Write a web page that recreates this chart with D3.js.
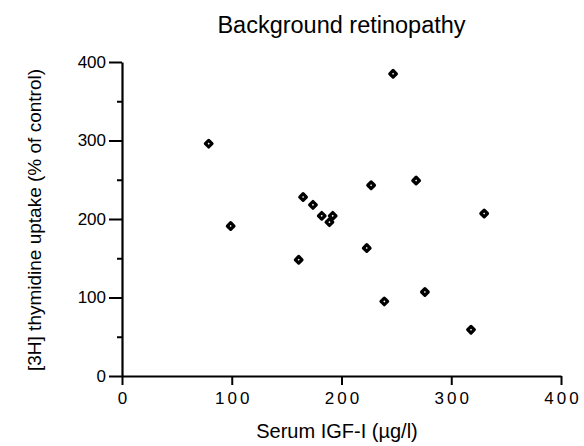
<!DOCTYPE html>
<html>
<head>
<meta charset="utf-8">
<script src="https://cdn.jsdelivr.net/npm/d3@7"></script>
<style>
  body { margin: 0; background: #fff; }
  text { font-family: "Liberation Sans", Arial, sans-serif; fill: #000; }
</style>
</head>
<body>
<div id="chart"></div>
<script>
// chart data
var igf = [79, 99, 161, 165, 174, 182, 189, 192, 223, 227, 239, 247, 268, 276, 318, 330];
var uptake = [296, 191, 148, 228, 218, 204, 196, 204, 163, 243, 95, 385, 249, 107, 59, 207];
var xTicks = [0, 100, 200, 300, 400];
var yTicks = [0, 100, 200, 300, 400];
var yMinorTicks = [50, 150, 250, 350];

var svgWidth = 584;
var svgHeight = 446;
var margin = { top: 62, right: 23, bottom: 70, left: 122 };
var width = svgWidth - margin.left - margin.right;
var height = svgHeight - margin.top - margin.bottom;

var svg = d3.select("#chart")
  .append("svg")
  .attr("width", svgWidth)
  .attr("height", svgHeight);

var g = svg.append("g")
  .attr("transform", `translate(${margin.left}, ${margin.top})`);

var x = d3.scaleLinear().domain([0, 400]).range([0, width]);
var y = d3.scaleLinear().domain([0, 400]).range([height, 0]);

// x axis
var xAxis = g.append("g")
  .attr("transform", `translate(0, ${height})`)
  .call(d3.axisBottom(x).tickValues(xTicks).tickSize(9).tickSizeOuter(0).tickPadding(7));
xAxis.selectAll("text")
  .attr("font-size", 17)
  .attr("dx", "1.5px")
  .style("letter-spacing", "3px");

// y axis, minor ticks first
g.append("g")
  .call(d3.axisLeft(y).tickValues(yMinorTicks).tickSize(5).tickSizeOuter(0).tickFormat(""))
  .select(".domain").remove();

var yAxis = g.append("g")
  .call(d3.axisLeft(y).tickValues(yTicks).tickSize(13).tickSizeOuter(0).tickPadding(3));
yAxis.selectAll("text").attr("font-size", 17);

g.selectAll(".domain, .tick line")
  .attr("stroke", "#000")
  .attr("stroke-width", 2);
g.selectAll(".domain").attr("stroke-width", 2.2);

// points
var pts = igf.map((v, i) => ({ x: v, y: uptake[i] }));
g.selectAll("path.pt")
  .data(pts)
  .enter()
  .append("path")
  .attr("class", "pt")
  .attr("d", d3.symbol().type(d3.symbolSquare).size(22))
  .attr("transform", d => `translate(${x(d.x)}, ${y(d.y)}) rotate(45)`)
  .attr("fill", "#fff")
  .attr("stroke", "#000")
  .attr("stroke-width", 3.2)
  .attr("stroke-linejoin", "round");

// title and labels
svg.append("text")
  .attr("x", margin.left + width / 2)
  .attr("y", 33)
  .attr("text-anchor", "middle")
  .attr("font-size", 23.5)
  .text("Background retinopathy");

svg.append("text")
  .attr("x", 337)
  .attr("y", 438)
  .attr("text-anchor", "middle")
  .attr("font-size", 20)
  .text("Serum IGF-I  (\u00b5g/l)");

svg.append("text")
  .attr("transform", `translate(41, 220) rotate(-90)`)
  .attr("text-anchor", "middle")
  .attr("font-size", 19)
  .text("[3H] thymidine uptake  (% of control)");
</script>
</body>
</html>
